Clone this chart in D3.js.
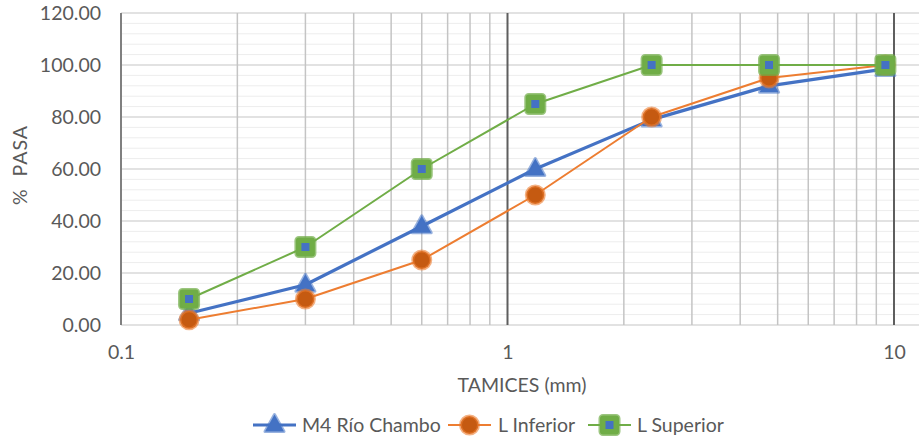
<!DOCTYPE html>
<html>
<head>
<meta charset="utf-8">
<script src="https://cdn.jsdelivr.net/npm/d3@7/dist/d3.min.js"></script>
<style>
  html, body { margin: 0; padding: 0; background: #fff; }
  svg { display: block; font-family: Lato, "Open Sans", sans-serif; }
</style>
</head>
<body>
<svg id="chart" width="919" height="442"></svg>
<script>
// Sieve openings (mm) and percent passing for each curve
const sieves = [0.15, 0.3, 0.6, 1.18, 2.36, 4.75, 9.5];
const rioChambo = [4.5, 15.5, 38.0, 60.0, 79.0, 92.0, 98.5];
const limInferior = [2.0, 10.0, 25.0, 50.0, 80.0, 95.0, 100.0];
const limSuperior = [10.0, 30.0, 60.0, 85.0, 100.0, 100.0, 100.0];
const seriesNames = ["M4 Río Chambo", "L Inferior", "L Superior"];
const yTicks = [0, 20, 40, 60, 80, 100, 120];
const xTickLabels = [0.1, 1, 10];

const svg = d3.select("#chart");
const W = 919, H = 442;
const m = { left: 121, right: 0, top: 13, bottom: 117 };

const x = d3.scaleLog().domain([0.1, 10]).range([121, 894]);
const xMax = x.invert(W);
const y = d3.scaleLinear().domain([0, 120]).range([H - m.bottom, m.top]);

const g = svg.append("g");

// horizontal minor gridlines every 4 units
const minorY = d3.range(4, 120, 4).filter(v => v % 20 !== 0);
g.selectAll("line.hminor").data(minorY).join("line")
  .attr("x1", x(0.1)).attr("x2", W)
  .attr("y1", d => y(d)).attr("y2", d => y(d))
  .attr("stroke", "#EDEDED").attr("stroke-width", 1);

// horizontal major gridlines
g.selectAll("line.hmajor").data(yTicks).join("line")
  .attr("x1", x(0.1)).attr("x2", W)
  .attr("y1", d => y(d)).attr("y2", d => y(d))
  .attr("stroke", "#D9D9D9").attr("stroke-width", 1.3);

// vertical minor gridlines
const minorX = [];
[0.1, 1].forEach(b => { for (let k = 2; k <= 9; k++) minorX.push(b * k); });
minorX.push(20);
g.selectAll("line.vminor").data(minorX.filter(v => v < xMax)).join("line")
  .attr("x1", d => x(d)).attr("x2", d => x(d))
  .attr("y1", y(120)).attr("y2", y(0))
  .attr("stroke", "#C4C4C4").attr("stroke-width", 1.5);

// vertical major gridlines (decades)
g.selectAll("line.vmajor").data(xTickLabels).join("line")
  .attr("x1", d => x(d)).attr("x2", d => x(d))
  .attr("y1", y(120)).attr("y2", y(0))
  .attr("stroke", d => d === 0.1 ? "#808080" : "#5E5E5E").attr("stroke-width", 2);

// y-axis tick labels
const yAxis = d3.axisLeft(y).tickValues(yTicks).tickFormat(d3.format(".2f")).tickSize(0).tickPadding(20);
const ya = svg.append("g").attr("transform", `translate(${x(0.1)},0)`).call(yAxis);
ya.select(".domain").remove();
ya.selectAll("text").attr("fill", "#595959").style("font-size", "19.5px").style("font-family", "Lato, sans-serif");

// x-axis tick labels
const xAxis = d3.axisBottom(x).tickValues(xTickLabels).tickFormat(d => String(d)).tickSize(0).tickPadding(20);
const xa = svg.append("g").attr("transform", `translate(0,${y(0)})`).call(xAxis);
xa.select(".domain").remove();
xa.selectAll("text").attr("fill", "#595959").style("font-size", "19.5px").style("font-family", "Lato, sans-serif");

// axis titles
svg.append("text").attr("x", 522).attr("y", 392).attr("text-anchor", "middle")
  .attr("fill", "#595959").style("font-size", "19.5px").text("TAMICES (mm)");
svg.append("text").attr("transform", "translate(27,165) rotate(-90)").attr("text-anchor", "middle")
  .attr("fill", "#595959").style("font-size", "19.5px").style("letter-spacing", "1px")
  .attr("xml:space", "preserve").text("%  PASA");

const series = [
  { name: seriesNames[0], values: rioChambo, color: "#4472C4", width: 3.2, marker: "triangle" },
  { name: seriesNames[1], values: limInferior, color: "#ED7D31", width: 2, marker: "circle" },
  { name: seriesNames[2], values: limSuperior, color: "#70AD47", width: 2, marker: "square" }
];

const line = d3.line().x(d => x(d[0])).y(d => y(d[1]));

function drawMarker(sel, type, cx, cy) {
  if (type === "triangle") {
    sel.append("path")
      .attr("d", `M${cx},${cy - 10.5} L${cx + 9.5},${cy + 6.5} L${cx - 9.5},${cy + 6.5} Z`)
      .attr("fill", "#4472C4").attr("stroke", "rgba(68,114,196,0.55)").attr("stroke-width", 3)
      .attr("stroke-linejoin", "round");
  } else if (type === "circle") {
    sel.append("circle").attr("cx", cx).attr("cy", cy).attr("r", 9)
      .attr("fill", "#C55A11").attr("stroke", "rgba(237,125,49,0.6)").attr("stroke-width", 3);
  } else {
    sel.append("rect").attr("x", cx - 9.5).attr("y", cy - 9.5).attr("width", 19).attr("height", 19)
      .attr("rx", 3).attr("fill", "#70AD47").attr("stroke", "rgba(112,173,71,0.7)").attr("stroke-width", 3);
    sel.append("rect").attr("x", cx - 4).attr("y", cy - 4).attr("width", 8).attr("height", 8)
      .attr("fill", "#4472C4");
  }
}

series.forEach(s => {
  const pts = sieves.map((v, i) => [v, s.values[i]]);
  const sg = svg.append("g");
  sg.append("path").datum(pts).attr("d", line)
    .attr("fill", "none").attr("stroke", s.color).attr("stroke-width", s.width)
    .attr("stroke-linejoin", "round");
  pts.forEach(p => drawMarker(sg, s.marker, x(p[0]), y(p[1])));
});

// legend
const legendItems = [
  { s: series[0], x0: 253, tx: 302 },
  { s: series[1], x0: 448, tx: 498 },
  { s: series[2], x0: 588, tx: 637 }
];
const ly = 425;
legendItems.forEach(it => {
  const lg = svg.append("g");
  lg.append("line").attr("x1", it.x0).attr("x2", it.x0 + 43).attr("y1", ly).attr("y2", ly)
    .attr("stroke", it.s.color).attr("stroke-width", it.s.width);
  drawMarker(lg, it.s.marker, it.x0 + 21.5, ly);
  lg.append("text").attr("x", it.tx).attr("y", ly + 7)
    .attr("fill", "#595959").style("font-size", "19.5px").text(it.s.name);
});
</script>
</body>
</html>
